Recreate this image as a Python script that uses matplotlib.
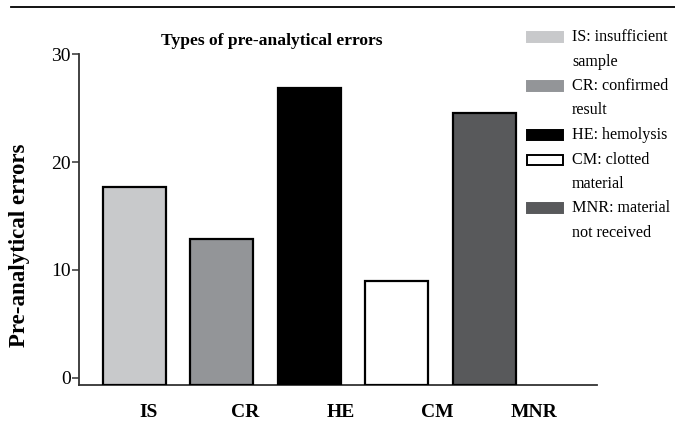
"""Types of pre-analytical errors — bar chart with side legend."""
import matplotlib
matplotlib.use("Agg")
import matplotlib.pyplot as plt
from matplotlib.lines import Line2D
from matplotlib.patches import Rectangle
import numpy as np

plt.rcParams["font.family"] = ["Liberation Serif", "DejaVu Serif"]

# data
categories = ["IS", "CR", "HE", "CM", "MNR"]
errors = [17.7, 12.9, 26.9, 9.0, 24.6]
bar_colors = ["#C8C9CB", "#939598", "#000000", "#FFFFFF", "#58595B"]
legend_labels = ["IS: insufficient\nsample", "CR: confirmed\nresult", "HE: hemolysis",
                 "CM: clotted\nmaterial", "MNR: material\nnot received"]
y_ticks = [0, 10, 20, 30]

W, H = 675, 444
fig = plt.figure(figsize=(W / 100, H / 100), dpi=100)
ax = fig.add_axes([79 / W, 1 - 385 / H, (597 - 79) / W, (385 - 54.3) / H])

# axis line sits a little below zero, bars reach down to it
y0 = -0.68
x = np.arange(len(categories))
ax.bar(x, np.array(errors) - y0, bottom=y0, width=0.72, color=bar_colors,
       edgecolor="black", linewidth=1.6, zorder=3)

ax.set_xlim(-0.63, 5.29)
ax.set_ylim(y0, 30)
ax.set_yticks(y_ticks)
ax.set_yticklabels([str(t) for t in y_ticks], fontsize=14)
ax.tick_params(axis="y", direction="out", length=5, width=1.1, color="#333333", pad=1)

# category labels are spread a bit wider than the bars (as in the source)
ax.set_xticks(0.165 + 1.1 * x)
ax.set_xticklabels(categories, fontsize=14, fontweight="bold")
ax.tick_params(axis="x", length=0, pad=14)

ax.spines[["top", "right"]].set_visible(False)
for s in ["left", "bottom"]:
    ax.spines[s].set_linewidth(1.3)
    ax.spines[s].set_color("#333333")

fig.text(272 / W, 1 - 41 / H, "Types of pre-analytical errors", ha="center", va="center",
         fontsize=12.6, fontweight="bold")
fig.text(20 / W, 1 - 245 / H, "Pre-analytical errors", ha="center", va="center",
         rotation=90, fontsize=16.5, fontweight="bold")

# rule across the top
fig.add_artist(Line2D([11 / W, 1.0], [1 - 7 / H, 1 - 7 / H], color="black", lw=1.3))

# legend, hand placed on the right
line_step = 24.5
y_px = 37.0
for lab, col in zip(legend_labels, bar_colors):
    edge = "black" if col == "#FFFFFF" else col
    fig.add_artist(Rectangle((527 / W, 1 - (y_px + 5) / H), 36 / W, 10 / H,
                             facecolor=col, edgecolor=edge, lw=1.4,
                             transform=fig.transFigure))
    lines = lab.split("\n")
    for k, ln in enumerate(lines):
        fig.text(572 / W, 1 - (y_px + k * line_step) / H, ln, ha="left", va="center",
                 fontsize=11.6)
    y_px += line_step * len(lines)

fig.savefig("out.png", dpi=100)
plt.close(fig)
